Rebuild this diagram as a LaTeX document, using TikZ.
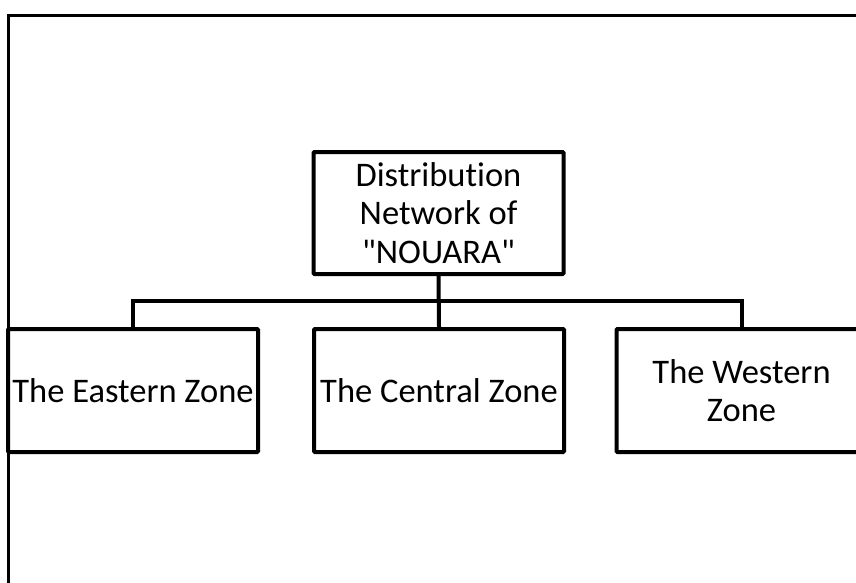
\documentclass[tikz,border=0pt]{standalone}
\usepackage{fontspec}
\setmainfont[Ligatures={NoCommon}]{Carlito}
% straight double quote, bypassing the TeX input mapping
\newcommand\straightquote{\XeTeXglyph\XeTeXcharglyph"22\relax}
\begin{document}
\begin{tikzpicture}[x=1pt,y=-1pt,
  box/.style={draw=black, line width=4pt, rounded corners=1pt, fill=white,
    minimum width=250pt, align=center, inner sep=0pt,
    font=\fontsize{34.5}{38.5}\selectfont},
  conn/.style={draw=black, line width=4pt},
  frame/.style={draw=black, line width=2.5pt}]
\useasboundingbox (0,0) rectangle (856,583);
% page frame (top and left edges)
\draw[frame] (8.5,900) -- (8.5,15.5) -- (900,15.5);
% organisation chart
\node[box, minimum height=122pt] (top) at (438.5,213) {Distribution\\Network of\\\straightquote NOUARA\straightquote};
\node[box, minimum height=123pt] (east) at (133,390.5) {The Eastern Zone};
\node[box, minimum height=123pt] (central) at (439,390.5) {The Central Zone};
\node[box, minimum height=123pt] (west) at (741.5,390.5) {The Western\\Zone};
\coordinate (bus) at (0,301);
\draw[conn] (top.south) -- (central.north);
\draw[conn] (east.north) -- (east.north |- bus) -- (west.north |- bus) -- (west.north);
\end{tikzpicture}
\end{document}
